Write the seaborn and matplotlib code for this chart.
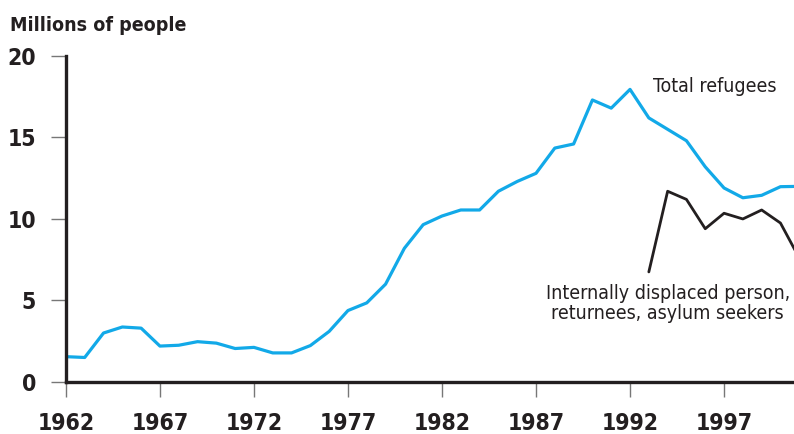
import pandas as pd
import seaborn as sns
import matplotlib.pyplot as plt

# values (millions of people)
years = list(range(1962, 2002))
total_refugees = [1.55, 1.5, 3.0, 3.37, 3.3, 2.2, 2.25, 2.47, 2.38, 2.05,
                  2.12, 1.78, 1.78, 2.23, 3.1, 4.38, 4.85, 6.0, 8.2, 9.65,
                  10.18, 10.55, 10.55, 11.7, 12.3, 12.8, 14.35, 14.6, 17.3, 16.8,
                  17.95, 16.2, 15.5, 14.8, 13.2, 11.9, 11.3, 11.45, 11.98, 12.0]
idp_years = list(range(1993, 2002))
idp_values = [6.75, 11.7, 11.2, 9.4, 10.35, 10.0, 10.55, 9.75, 7.6]

x_ticks = [1962, 1967, 1972, 1977, 1982, 1987, 1992, 1997]
y_ticks = [0, 5, 10, 15, 20]

sns.set_style('white')
plt.rcParams['font.family'] = ['DejaVu Sans']
plt.rcParams['font.stretch'] = 'condensed'

refugees = pd.DataFrame({'Year': years, 'Total': total_refugees})
idp = pd.DataFrame({'Year': idp_years, 'Total': idp_values})

fig = plt.figure(figsize=(7.94, 4.34), dpi=100)
ax = fig.add_axes([0.083, 0.12, 0.917, 0.751])

sns.lineplot(data=refugees, x='Year', y='Total', ax=ax, color='#12a9e8',
             linewidth=2.3)
sns.lineplot(data=idp, x='Year', y='Total', ax=ax, color='#231f20',
             linewidth=2.0)

ax.set_xlim(1962, 2000.72)
ax.set_ylim(0, 20)
ax.set_xticks(x_ticks)
ax.set_yticks(y_ticks)
ax.set_xlabel('')
ax.set_ylabel('')

for side in ['top', 'right']:
    ax.spines[side].set_visible(False)
for side in ['left', 'bottom']:
    ax.spines[side].set_linewidth(2.4)
    ax.spines[side].set_color('#231f20')

ax.tick_params(axis='both', direction='out', length=10.5, width=1,
               color='#777777', labelsize=16.5, labelcolor='#231f20',
               bottom=True, left=True)
ax.tick_params(axis='x', pad=11)
ax.tick_params(axis='y', pad=11)
for lbl in ax.get_xticklabels() + ax.get_yticklabels():
    lbl.set_fontweight('heavy')
    lbl.set_fontstretch('condensed')

fig.text(0.013, 0.942, 'Millions of people', fontsize=14,
         fontweight='heavy', color='#231f20', va='center', ha='left',
         fontstretch='condensed')
ax.text(1996.5, 18.1, 'Total refugees', fontsize=14, color='#231f20',
        ha='center', va='center', fontstretch='condensed')
ax.text(1994.0, 4.8, 'Internally displaced person,\nreturnees, asylum seekers',
        fontsize=14, color='#231f20', ha='center', va='center',
        linespacing=1.05, fontstretch='condensed')

fig.savefig('out.png', dpi=100)
